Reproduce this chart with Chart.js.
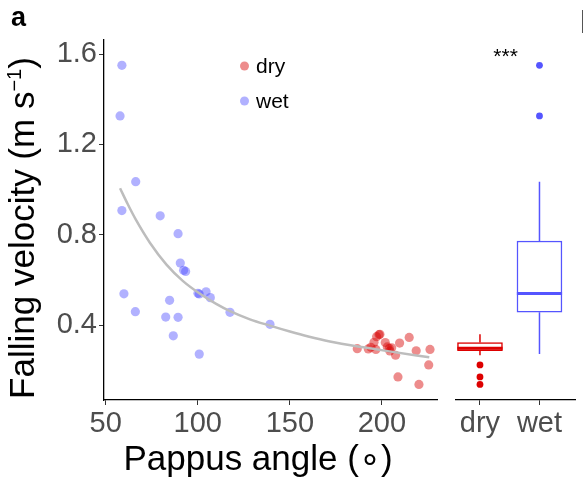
<!DOCTYPE html>
<html><head><meta charset="utf-8">
<script src="https://cdn.jsdelivr.net/npm/chart.js@4.4.1/dist/chart.umd.min.js"></script>
<style>
html,body{margin:0;padding:0;background:#fff;}
#wrap{position:relative;width:584px;height:484px;overflow:hidden;font-family:'Liberation Sans',Arial,sans-serif;}
#c1{position:absolute;left:0;top:0;}
#c2{position:absolute;left:450px;top:0;}
#panelA{position:absolute;left:11px;top:2px;font-weight:bold;font-size:27px;color:#000;}
#edge{position:absolute;left:582px;top:10px;width:0;height:23px;border-left:1px solid #555;}
#xtitle{position:absolute;left:58px;width:400px;top:438px;text-align:center;font-size:35px;line-height:40px;color:#000;}
#ytitle{position:absolute;left:-178px;width:400px;top:208px;text-align:center;font-size:35px;line-height:40px;color:#000;transform:rotate(-90deg);}
</style></head><body>
<div id="wrap">
<canvas id="c1" width="450" height="484"></canvas>
<canvas id="c2" width="134" height="484"></canvas>
<div id="panelA">a</div>
<div id="edge"></div>
<div id="xtitle">Pappus angle (∘)</div>
<div id="ytitle">Falling velocity (m s<sup style="font-size:20px;vertical-align:super;line-height:0">−1</sup>)</div>
</div>
<script>
const FONT = "'Liberation Sans', Arial, sans-serif";

// ---- data ----
const wetAngle    = [58.8, 57.8, 66.3, 58.8, 79.6, 89.3, 90.5, 92.3, 93.4, 59.9, 100.1, 100.8, 104.5, 106.8, 84.7, 66.1, 117.5, 82.6, 89.3, 86.7, 100.8, 139.2];
const wetVelocity = [1.55, 1.326, 1.035, 0.907, 0.884, 0.805, 0.675, 0.643, 0.638, 0.539, 0.541, 0.538, 0.548, 0.522, 0.510, 0.460, 0.457, 0.436, 0.435, 0.353, 0.272, 0.404];

const dryAngle    = [186.6, 192.6, 194.0, 196.7, 195.7, 197.1, 198.4, 198.9, 201.8, 202.9, 204.0, 205.3, 204.3, 207.4, 209.6, 214.8, 218.6, 226.1, 225.4, 208.7, 220.1];
const dryVelocity = [0.296, 0.295, 0.302, 0.293, 0.324, 0.349, 0.358, 0.360, 0.323, 0.304, 0.298, 0.300, 0.286, 0.267, 0.321, 0.346, 0.287, 0.293, 0.224, 0.171, 0.138];

// fitted curve
const fitAngle    = [57.8, 62, 66.3, 74, 83, 92, 101, 110, 117.5, 128.3, 139.2, 150, 160, 171.7, 190, 205, 225.7];
const fitVelocity = [1.006, 0.935, 0.868, 0.765, 0.668, 0.595, 0.540, 0.494, 0.462, 0.426, 0.398, 0.372, 0.350, 0.328, 0.302, 0.283, 0.258];

const xTicks = [50, 100, 150, 200];
const yTicks = [0.4, 0.8, 1.2, 1.6];
const groups = ['dry', 'wet'];
const legendLabels = ['dry', 'wet'];
const signifText = '***';

// ---- styles ----
const wetFill = 'rgba(70,70,255,0.42)';
const dryFill = 'rgba(215,0,0,0.45)';
const wetLine = '#5555ff';
const dryLine = '#dd0000';
const Y_MIN = 0.069, Y_MAX = 1.662;

function pts(xs, ys){ return xs.map((x,i)=>({x:x, y:ys[i]})); }

function quantile(sorted, p){
  const h = (sorted.length - 1) * p;
  const lo = Math.floor(h), hi = Math.ceil(h);
  return sorted[lo] + (h - lo) * (sorted[hi] - sorted[lo]);
}
function boxStats(vals){
  const s = vals.slice().sort((a,b)=>a-b);
  const q1 = quantile(s,0.25), med = quantile(s,0.5), q3 = quantile(s,0.75);
  const iqr = q3 - q1;
  const inside = s.filter(v => v >= q1 - 1.5*iqr && v <= q3 + 1.5*iqr);
  return {q1, med, q3, lo: inside[0], hi: inside[inside.length-1],
          out: s.filter(v => v < q1 - 1.5*iqr || v > q3 + 1.5*iqr)};
}

const tickFont = {family: FONT, size: 29};
const axisCommon = {
  grid: {drawOnChartArea:false, drawTicks:true, tickLength:5, color:'#333', tickWidth:1, offset:false},
  border: {display:true, color:'#000', width:1.3},
  ticks: {font: tickFont, color:'#4d4d4d', padding:2}
};

const legendPlugin = {
  id:'legendInside',
  afterDraw(chart){
    const ctx = chart.ctx;
    ctx.save();
    const items = [[legendLabels[0], dryFill, 66], [legendLabels[1], wetFill, 101]];
    items.forEach(([t,c,y])=>{
      ctx.fillStyle = c;
      ctx.beginPath(); ctx.arc(244.5, y, 4.5, 0, Math.PI*2); ctx.fill();
      ctx.fillStyle = '#000';
      ctx.font = '21px ' + FONT;
      ctx.textBaseline = 'middle';
      ctx.fillText(t, 256, y + 1);
    });
    ctx.restore();
  }
};

new Chart(document.getElementById('c1'), {
  type: 'scatter',
  data: {
    datasets: [
      {type:'line', data: pts(fitAngle, fitVelocity), borderColor:'#bdbdbd', borderWidth:2.5,
       pointRadius:0, cubicInterpolationMode:'monotone', fill:false},
      {data: pts(dryAngle, dryVelocity), backgroundColor: dryFill, borderWidth:0, pointRadius:4.6},
      {data: pts(wetAngle, wetVelocity), backgroundColor: wetFill, borderWidth:0, pointRadius:4.6}
    ]
  },
  options: {
    responsive:false, animation:false,
    layout:{padding:{top:40, right:13, left:0, bottom:0}},
    plugins:{legend:{display:false}, tooltip:{enabled:false}},
    scales:{
      x: Object.assign({}, axisCommon, {
        type:'linear', min:49.08, max:229.9,
        afterBuildTicks: s => { s.ticks = xTicks.map(v=>({value:v})); },
        afterFit: s => { s.height = 84; },
        ticks: Object.assign({}, axisCommon.ticks, {maxRotation:0, callback: v => String(v)})
      }),
      y: Object.assign({}, axisCommon, {
        type:'linear', min:Y_MIN, max:Y_MAX,
        afterBuildTicks: s => { s.ticks = yTicks.map(v=>({value:v})); },
        afterFit: s => { s.width = 104; },
        ticks: Object.assign({}, axisCommon.ticks, {callback: v => v.toFixed(1)})
      })
    }
  },
  plugins:[legendPlugin]
});

// ---- box plot panel ----
const dryS = boxStats(dryVelocity), wetS = boxStats(wetVelocity);
const stats = [dryS, wetS];
const lineCols = [dryLine, wetLine];
const halfW = 0.38;
const boxDatasets = [];
stats.forEach((st, i) => {
  const gx = i + 1, col = lineCols[i];
  boxDatasets.push({type:'line', data:[{x:gx-halfW,y:st.med},{x:gx+halfW,y:st.med}], borderColor:col, borderWidth:3, pointRadius:0});
  boxDatasets.push({type:'line', data:[{x:gx,y:st.q3},{x:gx,y:st.hi}], borderColor:col, borderWidth:1.5, pointRadius:0});
  boxDatasets.push({type:'line', data:[{x:gx,y:st.q1},{x:gx,y:st.lo}], borderColor:col, borderWidth:1.5, pointRadius:0});
  boxDatasets.push({type:'scatter', data: st.out.map(v=>({x:gx,y:v})), backgroundColor:col, borderWidth:0, pointRadius:3.4});
});
boxDatasets.push({type:'bar', data: stats.map((st,i)=>({x:i+1, y:[st.q1, st.q3]})),
  backgroundColor:'#fff', borderColor:lineCols, borderWidth:1.5, borderSkipped:false, barThickness:45, grouped:false});

const signifPlugin = {
  id:'signif',
  afterDraw(chart){
    const ctx = chart.ctx, xs = chart.scales.x, ys = chart.scales.y;
    ctx.save();
    ctx.fillStyle = '#000';
    ctx.font = '21px ' + FONT;
    ctx.textAlign = 'center';
    ctx.textBaseline = 'middle';
    ctx.fillText(signifText, xs.getPixelForValue(1.43), ys.getPixelForValue(1.6) + 3);
    ctx.restore();
  }
};

new Chart(document.getElementById('c2'), {
  type: 'bar',
  data: {datasets: boxDatasets},
  options: {
    responsive:false, animation:false,
    layout:{padding:{top:40, right:9, left:5.7, bottom:0}},
    plugins:{legend:{display:false}, tooltip:{enabled:false}},
    scales:{
      x: Object.assign({}, axisCommon, {
        type:'linear', min:0.592, max:2.597, offset:false,
        afterBuildTicks: s => { s.ticks = groups.map((g,i)=>({value:i+1})); },
        afterFit: s => { s.height = 84; },
        ticks: Object.assign({}, axisCommon.ticks, {maxRotation:0, callback: v => groups[v-1]})
      }),
      y: {type:'linear', display:false, min:Y_MIN, max:Y_MAX}
    }
  },
  plugins:[signifPlugin]
});
</script>
</body></html>
